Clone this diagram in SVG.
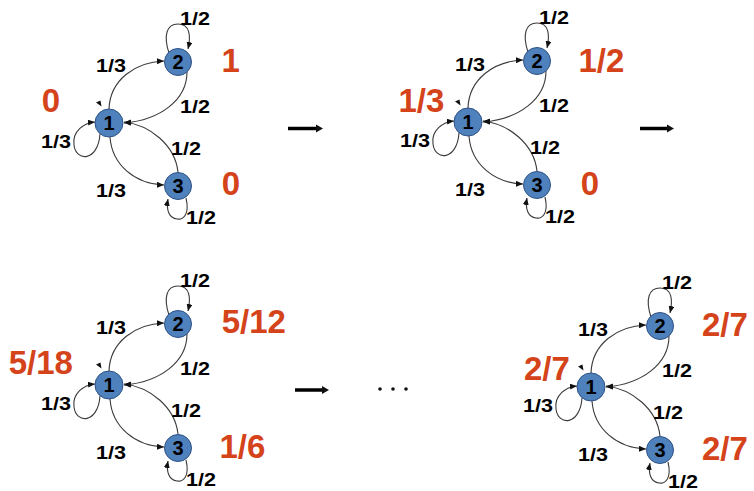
<svg xmlns="http://www.w3.org/2000/svg" xmlns:xlink="http://www.w3.org/1999/xlink" width="754" height="491" viewBox="0 0 754 491">
<defs>
<marker id="ah" markerUnits="userSpaceOnUse" markerWidth="7" markerHeight="6" refX="7" refY="3" orient="auto"><path d="M0,0 L7,3 L0,6 z" fill="#111"/></marker>
<style>
.e{fill:none;stroke:#3a3a3a;stroke-width:1.1;marker-end:url(#ah)}
.n{fill:#4F81BD;stroke:#2E5284;stroke-width:1}
.nt{font-family:"Liberation Sans",Arial,sans-serif;font-weight:bold;font-size:20px;fill:#000;text-anchor:middle}
.lb{font-family:"Liberation Sans",Arial,sans-serif;font-weight:bold;font-size:19px;fill:#000}
.rd{font-family:"Liberation Sans",Arial,sans-serif;font-weight:bold;font-size:33px;fill:#D4431A}
.st{fill:#111}
.big{stroke:#000;stroke-width:3.5}
</style>
</defs>
<rect width="754" height="491" fill="#fff"/>

<!-- Panel 1 -->
<g id="panel1">
<g id="p1-edges">
<path class="e" d="M109,109 C110,80 135,62 164,61"/>
<path class="e" d="M187,72 C187,100 160,120 124,123"/>
<path class="e" d="M178,172 C175,145 150,125 124,122"/>
<path class="e" d="M110,137 C112,165 135,184 164,185"/>
<path class="e" d="M100,134 C98,162 76,162 74,145 C72,131 84,123 95,122"/>
<path class="e" d="M169,53 C163,35 167,24 178,24 C190,24 191,36 188,49"/>
<path class="e" d="M186,198 C190,215 183,220 177,219 C169,218 166,210 168,199"/>
<polygon class="st" points="101.5,106.5 96,102.5 100.5,100.5"/>
</g>
<g id="p1-n1"><circle class="n" cx="109" cy="123" r="14"/><text class="nt" x="109" y="130">1</text></g>
<g id="p1-n2"><circle class="n" cx="178" cy="62" r="13.5"/><text class="nt" x="178" y="69">2</text></g>
<g id="p1-n3"><circle class="n" cx="178" cy="186" r="13.5"/><text class="nt" x="178" y="193">3</text></g>
<g id="p1-labels">
<text class="lb" x="180" y="25" textLength="30" lengthAdjust="spacingAndGlyphs">1/2</text>
<text class="lb" x="96" y="72" textLength="30" lengthAdjust="spacingAndGlyphs">1/3</text>
<text class="lb" x="180" y="113" textLength="30" lengthAdjust="spacingAndGlyphs">1/2</text>
<text class="lb" x="41" y="148" textLength="30" lengthAdjust="spacingAndGlyphs">1/3</text>
<text class="lb" x="171" y="155" textLength="30" lengthAdjust="spacingAndGlyphs">1/2</text>
<text class="lb" x="96" y="197" textLength="30" lengthAdjust="spacingAndGlyphs">1/3</text>
<text class="lb" x="186" y="224" textLength="30" lengthAdjust="spacingAndGlyphs">1/2</text>
</g>
</g>

<!-- Panel 2 -->
<g id="panel2" transform="translate(359,-1)">
<g id="p2-edges">
<path class="e" d="M109,109 C110,80 135,62 164,61"/>
<path class="e" d="M187,72 C187,100 160,120 124,123"/>
<path class="e" d="M178,172 C175,145 150,125 124,122"/>
<path class="e" d="M110,137 C112,165 135,184 164,185"/>
<path class="e" d="M100,134 C98,162 76,162 74,145 C72,131 84,123 95,122"/>
<path class="e" d="M169,53 C163,35 167,24 178,24 C190,24 191,36 188,49"/>
<path class="e" d="M186,198 C190,215 183,220 177,219 C169,218 166,210 168,199"/>
<polygon class="st" points="101.5,106.5 96,102.5 100.5,100.5"/>
</g>
<g id="p2-n1"><circle class="n" cx="109" cy="123" r="14"/><text class="nt" x="109" y="130">1</text></g>
<g id="p2-n2"><circle class="n" cx="178" cy="62" r="13.5"/><text class="nt" x="178" y="69">2</text></g>
<g id="p2-n3"><circle class="n" cx="178" cy="186" r="13.5"/><text class="nt" x="178" y="193">3</text></g>
<g id="p2-labels">
<text class="lb" x="180" y="25" textLength="30" lengthAdjust="spacingAndGlyphs">1/2</text>
<text class="lb" x="96" y="72" textLength="30" lengthAdjust="spacingAndGlyphs">1/3</text>
<text class="lb" x="180" y="113" textLength="30" lengthAdjust="spacingAndGlyphs">1/2</text>
<text class="lb" x="41" y="148" textLength="30" lengthAdjust="spacingAndGlyphs">1/3</text>
<text class="lb" x="171" y="155" textLength="30" lengthAdjust="spacingAndGlyphs">1/2</text>
<text class="lb" x="96" y="197" textLength="30" lengthAdjust="spacingAndGlyphs">1/3</text>
<text class="lb" x="186" y="224" textLength="30" lengthAdjust="spacingAndGlyphs">1/2</text>
</g>
</g>

<!-- Panel 3 -->
<g id="panel3" transform="translate(0,262)">
<g id="p3-edges">
<path class="e" d="M109,109 C110,80 135,62 164,61"/>
<path class="e" d="M187,72 C187,100 160,120 124,123"/>
<path class="e" d="M178,172 C175,145 150,125 124,122"/>
<path class="e" d="M110,137 C112,165 135,184 164,185"/>
<path class="e" d="M100,134 C98,162 76,162 74,145 C72,131 84,123 95,122"/>
<path class="e" d="M169,53 C163,35 167,24 178,24 C190,24 191,36 188,49"/>
<path class="e" d="M186,198 C190,215 183,220 177,219 C169,218 166,210 168,199"/>
<polygon class="st" points="101.5,106.5 96,102.5 100.5,100.5"/>
</g>
<g id="p3-n1"><circle class="n" cx="109" cy="123" r="14"/><text class="nt" x="109" y="130">1</text></g>
<g id="p3-n2"><circle class="n" cx="178" cy="62" r="13.5"/><text class="nt" x="178" y="69">2</text></g>
<g id="p3-n3"><circle class="n" cx="178" cy="186" r="13.5"/><text class="nt" x="178" y="193">3</text></g>
<g id="p3-labels">
<text class="lb" x="180" y="25" textLength="30" lengthAdjust="spacingAndGlyphs">1/2</text>
<text class="lb" x="96" y="72" textLength="30" lengthAdjust="spacingAndGlyphs">1/3</text>
<text class="lb" x="180" y="113" textLength="30" lengthAdjust="spacingAndGlyphs">1/2</text>
<text class="lb" x="41" y="148" textLength="30" lengthAdjust="spacingAndGlyphs">1/3</text>
<text class="lb" x="171" y="155" textLength="30" lengthAdjust="spacingAndGlyphs">1/2</text>
<text class="lb" x="96" y="197" textLength="30" lengthAdjust="spacingAndGlyphs">1/3</text>
<text class="lb" x="186" y="224" textLength="30" lengthAdjust="spacingAndGlyphs">1/2</text>
</g>
</g>

<!-- Panel 4 -->
<g id="panel4" transform="translate(482,264)">
<g id="p4-edges">
<path class="e" d="M109,109 C110,80 135,62 164,61"/>
<path class="e" d="M187,72 C187,100 160,120 124,123"/>
<path class="e" d="M178,172 C175,145 150,125 124,122"/>
<path class="e" d="M110,137 C112,165 135,184 164,185"/>
<path class="e" d="M100,134 C98,162 76,162 74,145 C72,131 84,123 95,122"/>
<path class="e" d="M169,53 C163,35 167,24 178,24 C190,24 191,36 188,49"/>
<path class="e" d="M186,198 C190,215 183,220 177,219 C169,218 166,210 168,199"/>
<polygon class="st" points="101.5,106.5 96,102.5 100.5,100.5"/>
</g>
<g id="p4-n1"><circle class="n" cx="109" cy="123" r="14"/><text class="nt" x="109" y="130">1</text></g>
<g id="p4-n2"><circle class="n" cx="178" cy="62" r="13.5"/><text class="nt" x="178" y="69">2</text></g>
<g id="p4-n3"><circle class="n" cx="178" cy="186" r="13.5"/><text class="nt" x="178" y="193">3</text></g>
<g id="p4-labels">
<text class="lb" x="180" y="25" textLength="30" lengthAdjust="spacingAndGlyphs">1/2</text>
<text class="lb" x="96" y="72" textLength="30" lengthAdjust="spacingAndGlyphs">1/3</text>
<text class="lb" x="180" y="113" textLength="30" lengthAdjust="spacingAndGlyphs">1/2</text>
<text class="lb" x="41" y="148" textLength="30" lengthAdjust="spacingAndGlyphs">1/3</text>
<text class="lb" x="171" y="155" textLength="30" lengthAdjust="spacingAndGlyphs">1/2</text>
<text class="lb" x="96" y="197" textLength="30" lengthAdjust="spacingAndGlyphs">1/3</text>
<text class="lb" x="186" y="224" textLength="30" lengthAdjust="spacingAndGlyphs">1/2</text>
</g>
</g>

<!-- Red values -->
<g id="values">
<text class="rd" x="41.7" y="112">0</text>
<text class="rd" x="221.4" y="72">1</text>
<text class="rd" x="221.7" y="195">0</text>
<text class="rd" x="398.4" y="112">1/3</text>
<text class="rd" x="578.4" y="72">1/2</text>
<text class="rd" x="580.7" y="195">0</text>
<text class="rd" x="8.7" y="374">5/18</text>
<text class="rd" x="221.7" y="333">5/12</text>
<text class="rd" x="219.4" y="458">1/6</text>
<text class="rd" x="524" y="380">2/7</text>
<text class="rd" x="702" y="336">2/7</text>
<text class="rd" x="702" y="460">2/7</text>
</g>

<!-- Step arrows -->
<g id="steps">
<line class="big" x1="288" y1="128.5" x2="317" y2="128.5"/>
<polygon class="st" points="316,124.5 323,128.5 316,132.5"/>
<line class="big" x1="640" y1="128.5" x2="668" y2="128.5"/>
<polygon class="st" points="667,124.5 674,128.5 667,132.5"/>
<line class="big" x1="295" y1="390" x2="323" y2="390"/>
<polygon class="st" points="322,386 329,390 322,394"/>
<circle class="st" cx="380" cy="389" r="1.8"/>
<circle class="st" cx="393" cy="389" r="1.8"/>
<circle class="st" cx="406" cy="389" r="1.8"/>
</g>
</svg>
